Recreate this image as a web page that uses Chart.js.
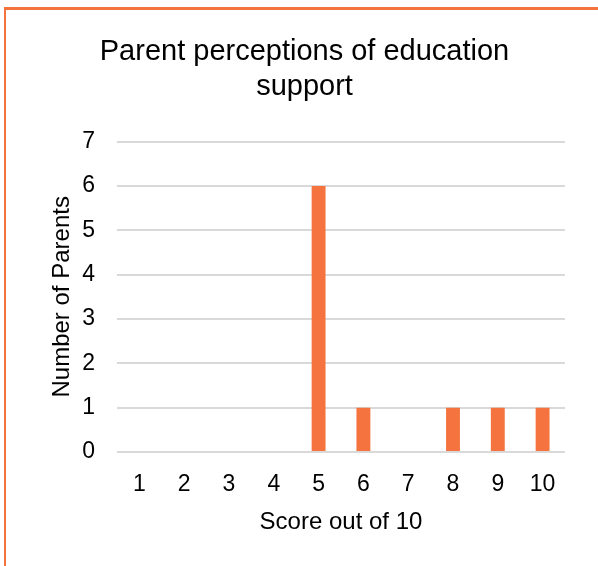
<!DOCTYPE html>
<html>
<head>
<meta charset="utf-8">
<script src="https://cdn.jsdelivr.net/npm/chart.js@4"></script>
<style>
  html, body { margin: 0; padding: 0; background: #ffffff; }
  #wrap { position: absolute; left: 0; top: 0; width: 598px; height: 566px; }
  #frame { position: absolute; left: 4px; top: 7px; width: 600px; height: 600px;
           border-top: 3px solid #F4733F; border-left: 2px solid #F4733F; box-sizing: border-box; }
  canvas { position: absolute; left: 0; top: 0; }
</style>
</head>
<body>
<div id="wrap">
  <div id="frame"></div>
  <canvas id="c" width="598" height="566"></canvas>
</div>
<script>
const categories = ['1', '2', '3', '4', '5', '6', '7', '8', '9', '10'];
const parentCounts = [0, 0, 0, 0, 6, 1, 0, 1, 1, 1];
const titleLines = ['Parent perceptions of education', 'support'];
const xTitle = 'Score out of 10';
const yTitle = 'Number of Parents';

const FONT = "'Liberation Sans', Arial, Helvetica, sans-serif";

new Chart(document.getElementById('c'), {
  type: 'bar',
  data: {
    labels: categories,
    datasets: [{
      data: parentCounts,
      backgroundColor: '#F4733F',
      borderWidth: 0,
      barPercentage: 1.0,
      categoryPercentage: 0.31
    }]
  },
  options: {
    responsive: false,
    animation: false,
    devicePixelRatio: 1,
    layout: { padding: { left: 44, right: 33, top: 0, bottom: 25 } },
    plugins: {
      legend: { display: false },
      tooltip: { enabled: false },
      title: {
        display: true,
        text: titleLines,
        color: '#000000',
        font: { family: FONT, size: 29, weight: 'normal', lineHeight: 1.2 },
        padding: { top: 35, bottom: 37 }
      }
    },
    scales: {
      x: {
        grid: { display: false, drawTicks: false },
        border: { display: false },
        ticks: { color: '#000000', font: { family: FONT, size: 23 }, padding: 19, maxRotation: 0 },
        title: { display: true, text: xTitle, color: '#000000', font: { family: FONT, size: 24 }, padding: { top: 10, bottom: 4 } },
        afterFit: (scale) => { scale.height = 89; }
      },
      y: {
        min: 0,
        max: 7,
        grid: { color: '#D9D9D9', lineWidth: 2, drawTicks: false },
        border: { display: false },
        ticks: { stepSize: 1, color: '#000000', font: { family: FONT, size: 23 }, padding: 22 },
        title: { display: true, text: yTitle, color: '#000000', font: { family: FONT, size: 24 }, padding: { top: 4, bottom: 4 } },
        afterFit: (scale) => { scale.width = 73; }
      }
    }
  }
});
</script>
</body>
</html>
